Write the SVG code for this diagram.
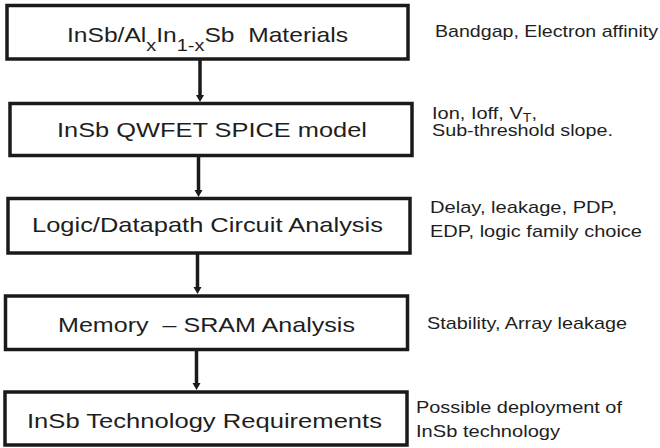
<svg xmlns="http://www.w3.org/2000/svg" width="660" height="448" viewBox="0 0 660 448">
  <style>
    .box { fill: #ffffff; stroke: #1a1a1a; stroke-width: 3.5; }
    .lbl { font-family: "Liberation Sans", Arial, sans-serif; font-size: 21px; fill: #1e1e1e; }
    .note { font-family: "Liberation Sans", Arial, sans-serif; font-size: 17px; fill: #1e1e1e; }
    .wire { stroke: #1a1a1a; stroke-width: 3.5; fill: none; }
    .head { fill: #1a1a1a; }
  </style>
  <rect width="660" height="448" fill="#ffffff"/>

  <!-- flow connectors -->
  <g id="connectors">
    <line class="wire" x1="200" y1="59" x2="200" y2="96"/>
    <polygon class="head" points="196,95 204,95 200,102"/>
    <line class="wire" x1="198.5" y1="155" x2="198.5" y2="191"/>
    <polygon class="head" points="194.5,190 202.5,190 198.5,197"/>
    <line class="wire" x1="197.5" y1="253" x2="197.5" y2="288"/>
    <polygon class="head" points="193.5,287 201.5,287 197.5,294"/>
    <line class="wire" x1="196.5" y1="349" x2="196.5" y2="384"/>
    <polygon class="head" points="192.5,383 200.5,383 196.5,390"/>
  </g>

  <g id="materials">
    <rect class="box" x="7" y="5.5" width="401" height="53.5"/>
    <text class="lbl" x="67" y="42" font-size="25" textLength="281" lengthAdjust="spacingAndGlyphs" xml:space="preserve">InSb/Al<tspan font-size="17" dy="9">x</tspan><tspan dy="-9">In</tspan><tspan font-size="17" dy="9">1-x</tspan><tspan dy="-9">Sb  Materials</tspan></text>
  </g>

  <g id="spice-model">
    <rect class="box" x="10" y="103.5" width="402" height="52"/>
    <text class="lbl" x="57" y="137" textLength="310" lengthAdjust="spacingAndGlyphs">InSb QWFET SPICE model</text>
  </g>

  <g id="logic-analysis">
    <rect class="box" x="8" y="198.5" width="402" height="54.5"/>
    <text class="lbl" x="32" y="232" textLength="351" lengthAdjust="spacingAndGlyphs">Logic/Datapath Circuit Analysis</text>
  </g>

  <g id="sram-analysis">
    <rect class="box" x="5.5" y="296" width="402" height="53.5"/>
    <text class="lbl" x="58" y="332" textLength="297" lengthAdjust="spacingAndGlyphs" xml:space="preserve">Memory  – SRAM Analysis</text>
  </g>

  <g id="requirements">
    <rect class="box" x="5" y="392" width="402" height="53"/>
    <text class="lbl" x="27" y="428" textLength="355" lengthAdjust="spacingAndGlyphs">InSb Technology Requirements</text>
  </g>

  <!-- side notes -->
  <g id="notes">
    <text class="note" x="435" y="37" textLength="223" lengthAdjust="spacingAndGlyphs">Bandgap, Electron affinity</text>
    <text class="note" x="432" y="119" textLength="105" lengthAdjust="spacingAndGlyphs">Ion, Ioff, V<tspan font-size="12" dy="3">T</tspan><tspan dy="-3">,</tspan></text>
    <text class="note" x="432" y="136" textLength="181" lengthAdjust="spacingAndGlyphs">Sub-threshold slope.</text>
    <text class="note" x="430" y="213" textLength="187" lengthAdjust="spacingAndGlyphs">Delay, leakage, PDP,</text>
    <text class="note" x="430" y="237" textLength="212" lengthAdjust="spacingAndGlyphs">EDP, logic family choice</text>
    <text class="note" x="427" y="329" textLength="200" lengthAdjust="spacingAndGlyphs">Stability, Array leakage</text>
    <text class="note" x="416" y="413" textLength="206" lengthAdjust="spacingAndGlyphs">Possible deployment of</text>
    <text class="note" x="416" y="437" textLength="144" lengthAdjust="spacingAndGlyphs">InSb technology</text>
  </g>
</svg>
